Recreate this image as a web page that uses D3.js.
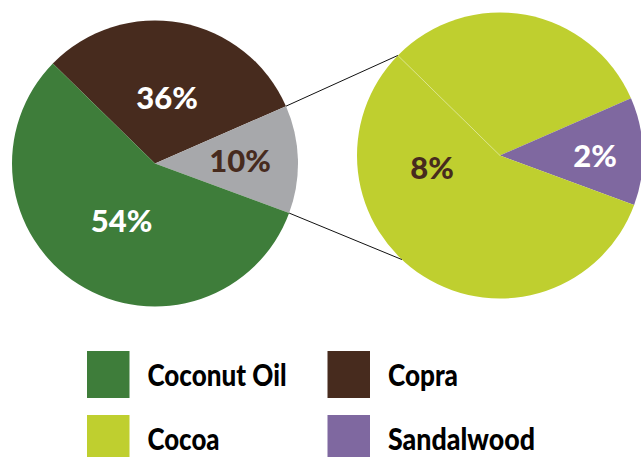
<!DOCTYPE html>
<html>
<head>
<meta charset="utf-8">
<script src="https://cdn.jsdelivr.net/npm/d3@7"></script>
<style>
  html, body { margin: 0; padding: 0; background: #fff; }
  svg { display: block; }
</style>
</head>
<body>
<svg id="chart" width="641" height="457"></svg>
<script>
// ---- Data ----
// Main pie: slice shares as drawn (clockwise from the upper-left seam)
const mainCategories = ["Copra", "Other", "Coconut Oil"];
const mainValues = [31.1, 12.2, 56.7];
const mainLabels = ["36%", "10%", "54%"];

// Secondary pie (breakdown of "Other")
const subCategories = ["Cocoa", "Sandalwood", "Cocoa"];
const subValues = [31.1, 12.2, 56.7];
const subLabels = ["", "2%", "8%"];

// Legend
const legendItems = ["Coconut Oil", "Copra", "Cocoa", "Sandalwood"];

// ---- Styling ----
const colors = {
  "Coconut Oil": "#3e7d3a",
  "Copra": "#472b1e",
  "Other": "#a7a8ab",
  "Cocoa": "#bfcf2f",
  "Sandalwood": "#7f68a0"
};
const labelColors = {
  "Coconut Oil": "#ffffff",
  "Copra": "#ffffff",
  "Other": "#472b1e",
  "Cocoa": "#472b1e",
  "Sandalwood": "#ffffff"
};
const legendTextWidth = { "Coconut Oil": 139, "Copra": 70, "Cocoa": 72, "Sandalwood": 147 };

const svg = d3.select("#chart");
const deg = Math.PI / 180;
const R = 143;
const startA = -45.6 * deg;

const pie = d3.pie().sort(null).value(d => d.v)
  .startAngle(startA).endAngle(startA + 2 * Math.PI);
const arc = d3.arc().innerRadius(0).outerRadius(R);

// ---- Main pie ----
const mainCx = 155, mainCy = 163.5;
const mainData = pie(mainCategories.map((c, i) => ({ c, v: mainValues[i], l: mainLabels[i] })));
const gMain = svg.append("g").attr("transform", `translate(${mainCx},${mainCy})`);
gMain.selectAll("path").data(mainData).join("path")
  .attr("d", arc).attr("fill", d => colors[d.data.c]);

const mainLabelR = [67, 85, 66];
const mainLabelShift = [0, 0, -2];
gMain.selectAll("text").data(mainData).join("text")
  .attr("transform", (d, i) => {
    const a = (d.startAngle + d.endAngle) / 2 + mainLabelShift[i] * deg;
    return `translate(${Math.sin(a) * mainLabelR[i]},${-Math.cos(a) * mainLabelR[i]})`;
  })
  .attr("text-anchor", "middle").attr("dy", "0.36em")
  .style("font-family", "Lato, 'Open Sans', sans-serif")
  .style("font-weight", 900).style("font-size", "31px")
  .attr("fill", d => labelColors[d.data.c])
  .text(d => d.data.l);

// ---- Secondary pie ----
const subCx = 500, subCy = 155.5;
const subData = pie(subCategories.map((c, i) => ({ c, v: subValues[i], l: subLabels[i] })));
const gSub = svg.append("g").attr("transform", `translate(${subCx},${subCy})`);
gSub.selectAll("path").data(subData).join("path")
  .attr("d", arc).attr("fill", d => colors[d.data.c]);
// faint seam between the two cocoa pieces
gSub.append("line")
  .attr("x1", 0).attr("y1", 0)
  .attr("x2", Math.sin(subData[0].startAngle) * R)
  .attr("y2", -Math.cos(subData[0].startAngle) * R)
  .attr("stroke", "#ffffff").attr("stroke-opacity", 0.35).attr("stroke-width", 0.8);

const subLabelPos = [null, { a: 90, r: 95 }, { a: 260, r: 69 }];
gSub.selectAll("text.lbl").data(subData.filter(d => d.data.l)).join("text")
  .attr("class", "lbl")
  .attr("transform", d => {
    const p = subLabelPos[d.index];
    const a = p.a * deg;
    return `translate(${Math.sin(a) * p.r},${-Math.cos(a) * p.r})`;
  })
  .attr("text-anchor", "middle").attr("dy", "0.36em")
  .style("font-family", "Lato, 'Open Sans', sans-serif")
  .style("font-weight", 900).style("font-size", "31px")
  .attr("fill", d => labelColors[d.data.c])
  .text(d => d.data.l);

// ---- Connector lines ----
const other = mainData[1];
const pt = (cx, cy, a, r) => [cx + Math.sin(a) * r, cy - Math.cos(a) * r];
const conns = [
  [pt(mainCx, mainCy, other.startAngle, R), pt(subCx, subCy, subData[0].startAngle, R)],
  [pt(mainCx, mainCy, other.endAngle, R), pt(subCx, subCy, 223.3 * deg, R)]
];
svg.selectAll("line.conn").data(conns).join("line")
  .attr("class", "conn")
  .attr("x1", d => d[0][0]).attr("y1", d => d[0][1])
  .attr("x2", d => d[1][0]).attr("y2", d => d[1][1])
  .attr("stroke", "#111").attr("stroke-width", 1);

// ---- Legend ----
const legendX = [87, 327.5];
const legendY = [351, 415];
const lg = svg.selectAll("g.leg").data(legendItems).join("g")
  .attr("class", "leg")
  .attr("transform", (d, i) => `translate(${legendX[i % 2]},${legendY[Math.floor(i / 2)]})`);
lg.append("rect").attr("width", 42.5).attr("height", 47)
  .attr("fill", d => colors[d]);
lg.append("text")
  .attr("x", 60.5).attr("y", 35)
  .attr("textLength", d => legendTextWidth[d])
  .attr("lengthAdjust", "spacingAndGlyphs")
  .style("font-family", "Lato, 'Open Sans', sans-serif")
  .style("font-weight", 900).style("font-size", "30px")
  .attr("fill", "#000")
  .text(d => d);
</script>
</body>
</html>
